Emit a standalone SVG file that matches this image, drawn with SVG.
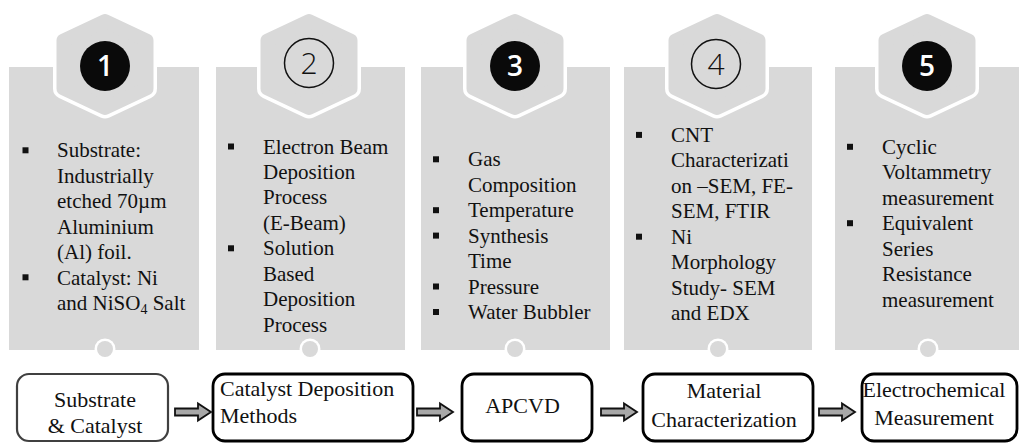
<svg xmlns="http://www.w3.org/2000/svg" width="1019" height="443" viewBox="0 0 1019 443">
<style>
.panel{fill:#d9d9d9}
.hexw{fill:#fff;stroke:#fff;stroke-width:21;stroke-linejoin:round}
.hexg{fill:#d9d9d9;stroke:#d9d9d9;stroke-width:14;stroke-linejoin:round}
.dotw{fill:#fff}
.dotg{fill:#d9d9d9}
.t{font-family:"Liberation Serif","Times New Roman",serif;font-size:21px;fill:#111}
.bt{font-family:"Liberation Serif","Times New Roman",serif;font-size:22px;fill:#111}
.blt{fill:#111}
.cf{fill:#0a0a0a}
.co{fill:none;stroke:#111;stroke-width:1.5}
.nw{font-family:"Open Sans","Noto Sans",sans-serif;font-size:28px;font-weight:600;fill:#fff;text-anchor:middle}
.nb{font-family:"Open Sans","Noto Sans",sans-serif;font-size:30px;font-weight:300;fill:#111;text-anchor:middle}
.box{fill:#fff;stroke:#000;stroke-width:2.8}
.box1{fill:#fff;stroke:#404040;stroke-width:2.2}
.arr{fill:#a8a8a8;stroke:#111;stroke-width:1.8;stroke-linejoin:miter}
</style>
<defs>
<polygon id="hex" points="0,-43.5 41.5,-24 41.5,24 0,43.5 -41.5,24 -41.5,-24"/>
<path id="arrow" d="M0,-3.5 H23 V-8.5 L36,0 L23,8.5 V3.5 H0 Z"/>
</defs>

<g id="step1">
<rect class="panel" x="9" y="67" width="190" height="283"/>
<use href="#hex" class="hexw" transform="translate(105,64.5)"/>
<use href="#hex" class="hexg" transform="translate(105,64.5)"/>
<circle class="cf" cx="105" cy="66" r="25"/>
<text class="nw" x="105" y="76">1</text>
<circle class="dotw" cx="105" cy="349" r="10.5"/>
<circle class="dotg" cx="105" cy="349" r="8"/>
<rect class="blt" x="22.5" y="147.3" width="6" height="6"/>
<rect class="blt" x="22.5" y="274.3" width="6" height="6"/>
<text class="t" x="57" y="157.3">Substrate:</text>
<text class="t" x="57" y="182.7">Industrially</text>
<text class="t" x="57" y="208.2">etched 70µm</text>
<text class="t" x="57" y="233.6">Aluminium</text>
<text class="t" x="57" y="259.1">(Al) foil.</text>
<text class="t" x="57" y="284.5">Catalyst: Ni</text>
<text class="t" x="57" y="310">and NiSO<tspan font-size="14" dy="4">4</tspan><tspan dy="-4"> Salt</tspan></text>
</g>

<g id="step2">
<rect class="panel" x="216" y="67" width="189" height="283"/>
<use href="#hex" class="hexw" transform="translate(309,64.5)"/>
<use href="#hex" class="hexg" transform="translate(309,64.5)"/>
<circle class="co" cx="309" cy="63" r="24.5"/>
<text class="nb" x="309" y="74">2</text>
<circle class="dotw" cx="310" cy="349" r="10.5"/>
<circle class="dotg" cx="310" cy="349" r="8"/>
<rect class="blt" x="228" y="143.5" width="6" height="6"/>
<rect class="blt" x="228" y="245.3" width="6" height="6"/>
<text class="t" x="263" y="153.5">Electron Beam</text>
<text class="t" x="263" y="179">Deposition</text>
<text class="t" x="263" y="204.4">Process</text>
<text class="t" x="263" y="229.9">(E-Beam)</text>
<text class="t" x="263" y="255.3">Solution</text>
<text class="t" x="263" y="280.8">Based</text>
<text class="t" x="263" y="306.2">Deposition</text>
<text class="t" x="263" y="331.7">Process</text>
</g>

<g id="step3">
<rect class="panel" x="421" y="67" width="189" height="283"/>
<use href="#hex" class="hexw" transform="translate(515,64.5)"/>
<use href="#hex" class="hexg" transform="translate(515,64.5)"/>
<circle class="cf" cx="515" cy="66" r="25"/>
<text class="nw" x="515" y="76">3</text>
<circle class="dotw" cx="515" cy="349" r="10.5"/>
<circle class="dotg" cx="515" cy="349" r="8"/>
<rect class="blt" x="433" y="156.3" width="6" height="6"/>
<rect class="blt" x="433" y="207.2" width="6" height="6"/>
<rect class="blt" x="433" y="232.6" width="6" height="6"/>
<rect class="blt" x="433" y="283.5" width="6" height="6"/>
<rect class="blt" x="433" y="309" width="6" height="6"/>
<text class="t" x="468" y="166.3">Gas</text>
<text class="t" x="468" y="191.7">Composition</text>
<text class="t" x="468" y="217.2">Temperature</text>
<text class="t" x="468" y="242.6">Synthesis</text>
<text class="t" x="468" y="268.1">Time</text>
<text class="t" x="468" y="293.5">Pressure</text>
<text class="t" x="468" y="319">Water Bubbler</text>
</g>

<g id="step4">
<rect class="panel" x="624" y="67" width="188" height="283"/>
<use href="#hex" class="hexw" transform="translate(717,64.5)"/>
<use href="#hex" class="hexg" transform="translate(717,64.5)"/>
<circle class="co" cx="716" cy="64" r="24.5"/>
<text class="nb" x="716" y="75">4</text>
<circle class="dotw" cx="718" cy="349" r="10.5"/>
<circle class="dotg" cx="718" cy="349" r="8"/>
<rect class="blt" x="636" y="131.9" width="6" height="6"/>
<rect class="blt" x="636" y="233.7" width="6" height="6"/>
<text class="t" x="671" y="141.9">CNT</text>
<text class="t" x="671" y="167.3">Characterizati</text>
<text class="t" x="671" y="192.8">on –SEM, FE-</text>
<text class="t" x="671" y="218.2">SEM, FTIR</text>
<text class="t" x="671" y="243.7">Ni</text>
<text class="t" x="671" y="269.1">Morphology</text>
<text class="t" x="671" y="294.6">Study- SEM</text>
<text class="t" x="671" y="320">and EDX</text>
</g>

<g id="step5">
<rect class="panel" x="835" y="67" width="190" height="283"/>
<use href="#hex" class="hexw" transform="translate(927,64.5)"/>
<use href="#hex" class="hexg" transform="translate(927,64.5)"/>
<circle class="cf" cx="927" cy="66" r="25"/>
<text class="nw" x="927" y="76">5</text>
<circle class="dotw" cx="928" cy="349" r="10.5"/>
<circle class="dotg" cx="928" cy="349" r="8"/>
<rect class="blt" x="847" y="143.8" width="6" height="6"/>
<rect class="blt" x="847" y="220.2" width="6" height="6"/>
<text class="t" x="882" y="153.8">Cyclic</text>
<text class="t" x="882" y="179.3">Voltammetry</text>
<text class="t" x="882" y="204.7">measurement</text>
<text class="t" x="882" y="230.2">Equivalent</text>
<text class="t" x="882" y="255.6">Series</text>
<text class="t" x="882" y="281.1">Resistance</text>
<text class="t" x="882" y="306.5">measurement</text>
</g>

<g id="box1">
<rect class="box1" x="17" y="374" width="151" height="67" rx="12"/>
<text class="bt" x="95" y="406.5" text-anchor="middle" font-size="22.6">Substrate</text>
<text class="bt" x="95" y="433" text-anchor="middle" font-size="22.6">&amp; Catalyst</text>
</g>
<g id="box2">
<rect class="box" x="213" y="374" width="200" height="67" rx="12"/>
<text class="bt" x="220" y="396" font-size="23.5">Catalyst Deposition</text>
<text class="bt" x="220" y="423" font-size="23.5">Methods</text>
</g>
<g id="box3">
<rect class="box" x="462" y="374" width="130" height="67" rx="12"/>
<text class="bt" x="522.5" y="413" text-anchor="middle">APCVD</text>
</g>
<g id="box4">
<rect class="box" x="643" y="374" width="170" height="67" rx="12"/>
<text class="bt" x="724" y="398" text-anchor="middle" font-size="22.8">Material</text>
<text class="bt" x="724" y="427" text-anchor="middle" font-size="22.8">Characterization</text>
</g>
<g id="box5">
<rect class="box" x="862" y="374" width="155" height="67" rx="12"/>
<text class="bt" x="934" y="397" text-anchor="middle">Electrochemical</text>
<text class="bt" x="934" y="425" text-anchor="middle">Measurement</text>
</g>

<g id="connectors">
<use href="#arrow" class="arr" transform="translate(175,412)"/>
<use href="#arrow" class="arr" transform="translate(417,412)"/>
<use href="#arrow" class="arr" transform="translate(601,412)"/>
<use href="#arrow" class="arr" transform="translate(819,412)"/>
</g>
</svg>
